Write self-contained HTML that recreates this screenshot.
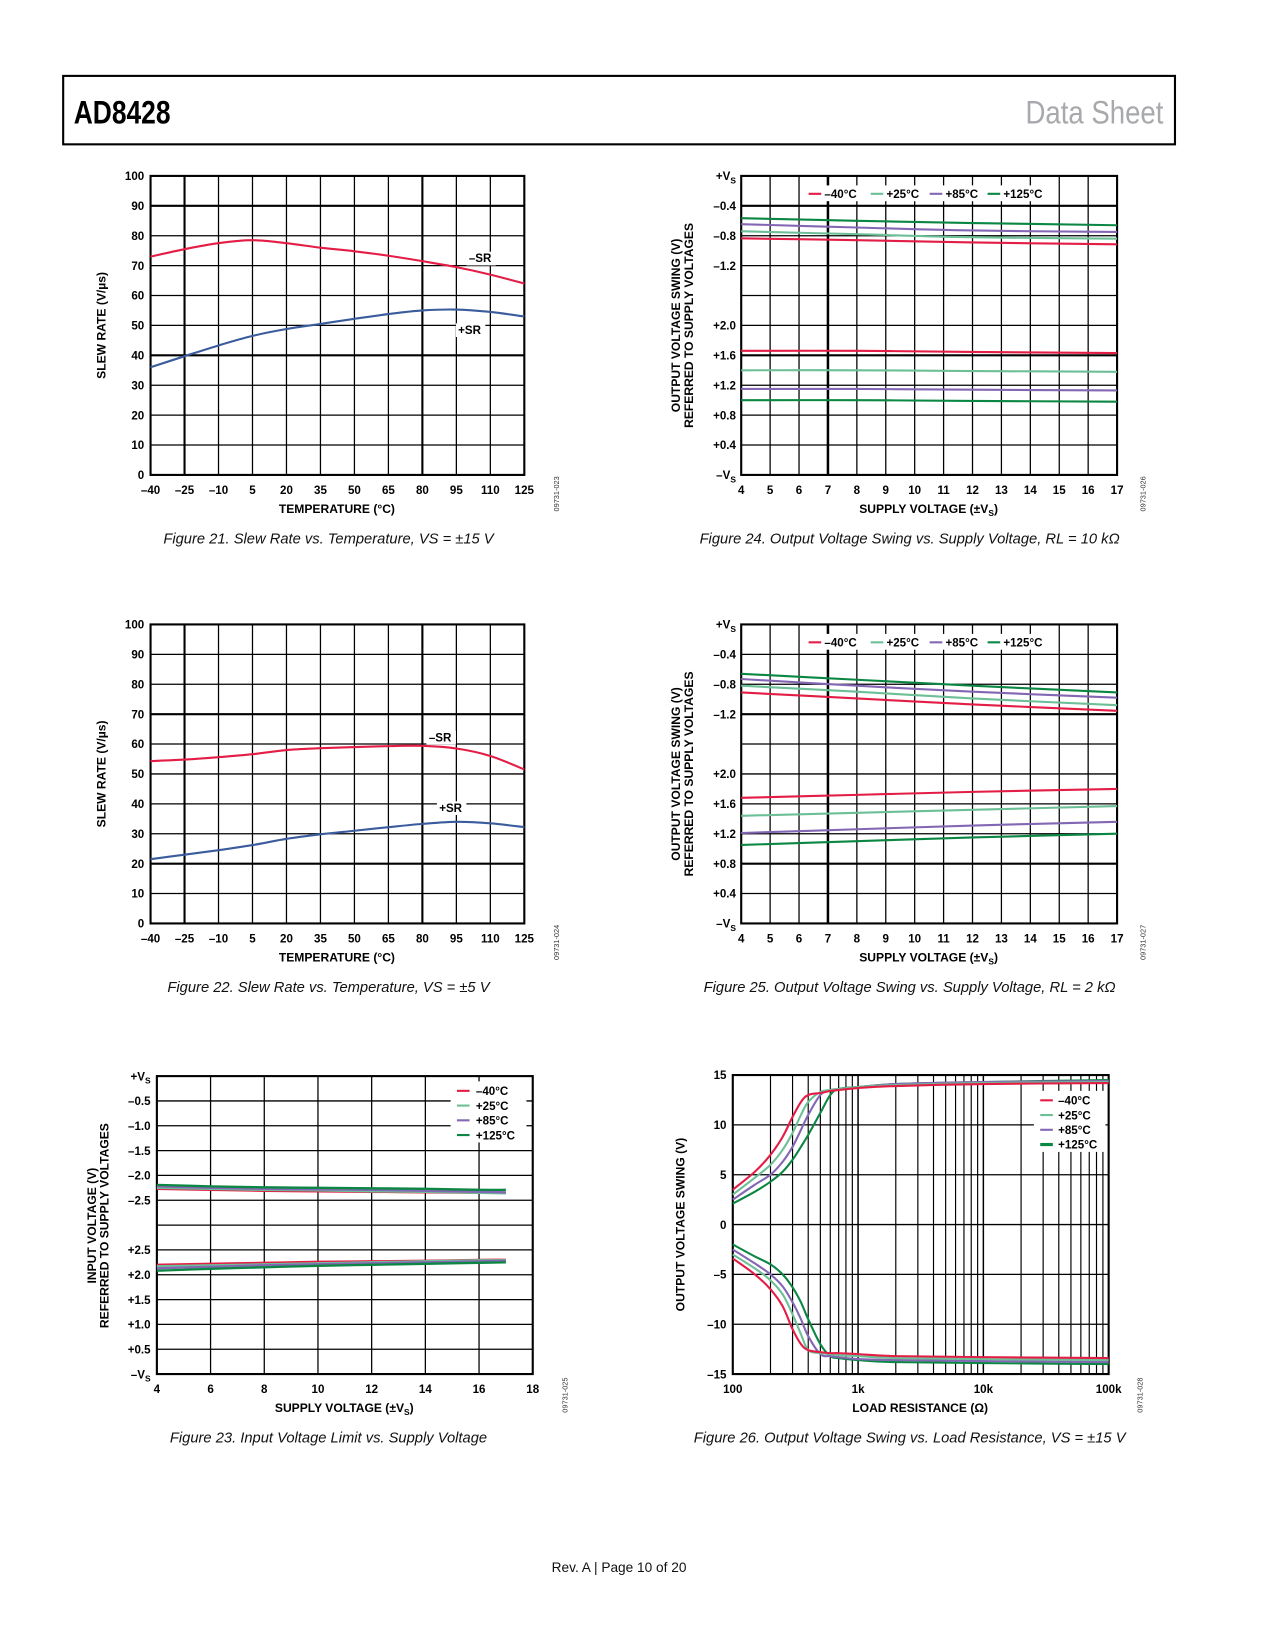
<!DOCTYPE html>
<html><head><meta charset="utf-8"><title>AD8428 Data Sheet page 10</title>
<style>
html,body{margin:0;padding:0;background:#fff;}
svg{display:block;}
text{font-family:"Liberation Sans",Arial,sans-serif;}
.tk{font-size:11px;font-weight:bold;fill:#000;}
.ttl{font-size:11.5px;font-weight:bold;fill:#000;}
.cap{font-size:14px;font-style:italic;fill:#111;}
.code{font-size:7px;fill:#333;}
</style></head>
<body>
<svg id="page" xmlns="http://www.w3.org/2000/svg" width="1275" height="1650" viewBox="0 0 1211 1567">
<rect x="0" y="0" width="1211" height="1567" fill="#fff"/>
<rect x="60" y="72" width="1056" height="65" fill="none" stroke="#000" stroke-width="2"/>
<text x="70" y="117" font-size="31" font-weight="bold" textLength="92" lengthAdjust="spacingAndGlyphs">AD8428</text>
<text x="1105" y="117" font-size="31" fill="#a7a9ac" text-anchor="end" textLength="131" lengthAdjust="spacingAndGlyphs">Data Sheet</text>
<text x="588" y="1493" font-size="13" text-anchor="middle" fill="#111">Rev. A | Page 10 of 20</text>
<g id="charts"></g>
</svg>
<script>
// ---------- Figure 21 data ----------
const f21Temps = [-40,-25,-10,5,20,35,50,65,80,95,110,125];
const f21NegSR = [73,75.5,77.5,78.5,77.5,76,74.8,73.3,71.5,69.5,67,64];
const f21PosSR = [36,39.7,43.3,46.5,48.8,50.5,52.2,53.8,55,55.3,54.5,53];
// ---------- Figure 22 data ----------
const f22Temps = [-40,-25,-10,5,20,35,50,65,80,95,110,125];
const f22NegSR = [54.3,54.8,55.6,56.6,58,58.6,59,59.3,59.4,58.5,56,51.5];
const f22PosSR = [21.5,23,24.5,26.2,28.3,29.8,31,32.2,33.3,34,33.5,32.2];
const srYTicks = [0,10,20,30,40,50,60,70,80,90,100];
const srXTicks = [-40,-25,-10,5,20,35,50,65,80,95,110,125];
const srXLabels = ["\u201340","\u201325","\u201310","5","20","35","50","65","80","95","110","125"];
// ---------- Figure 24 data (RL = 10k) ----------
const swingX = [4,8,12,17];
const f24TopM40 = [-0.835,-0.86,-0.89,-0.915];
const f24TopP25 = [-0.74,-0.78,-0.82,-0.84];
const f24TopP85 = [-0.645,-0.69,-0.73,-0.75];
const f24TopP125 = [-0.565,-0.6,-0.63,-0.66];
const f24BotM40 = [1.66,1.66,1.645,1.63];
const f24BotP25 = [1.4,1.4,1.39,1.38];
const f24BotP85 = [1.15,1.15,1.14,1.13];
const f24BotP125 = [1.0,1.0,0.99,0.98];
// ---------- Figure 25 data (RL = 2k) ----------
const f25TopM40 = [-0.91,-0.99,-1.07,-1.155];
const f25TopP25 = [-0.82,-0.9,-0.99,-1.08];
const f25TopP85 = [-0.73,-0.82,-0.9,-0.98];
const f25TopP125 = [-0.66,-0.74,-0.82,-0.91];
const f25BotM40 = [1.68,1.72,1.76,1.8];
const f25BotP25 = [1.44,1.48,1.52,1.57];
const f25BotP85 = [1.21,1.26,1.31,1.36];
const f25BotP125 = [1.05,1.1,1.15,1.2];
const swingXTicks = [4,5,6,7,8,9,10,11,12,13,14,15,16,17];
const swingYLabels = ["+VS","\u20130.4","\u20130.8","\u20131.2","","+2.0","+1.6","+1.2","+0.8","+0.4","\u2013VS"];
// ---------- Figure 23 data ----------
const f23X = [4,6,8,10,12,14,16,17];
const f23TopM40 = [-2.27,-2.29,-2.31,-2.32,-2.33,-2.34,-2.35,-2.35];
const f23TopP25 = [-2.25,-2.27,-2.29,-2.3,-2.32,-2.33,-2.35,-2.36];
const f23TopP85 = [-2.22,-2.25,-2.27,-2.28,-2.29,-2.31,-2.33,-2.34];
const f23TopP125 = [-2.19,-2.22,-2.24,-2.25,-2.26,-2.27,-2.29,-2.29];
const f23BotM40 = [2.2,2.22,2.24,2.26,2.27,2.28,2.3,2.3];
const f23BotP25 = [2.17,2.19,2.21,2.23,2.25,2.27,2.29,2.29];
const f23BotP85 = [2.13,2.16,2.19,2.21,2.23,2.25,2.27,2.28];
const f23BotP125 = [2.08,2.12,2.15,2.18,2.2,2.22,2.24,2.25];
const f23XTicks = [4,6,8,10,12,14,16,18];
const f23YLabels = ["+VS","\u20130.5","\u20131.0","\u20131.5","\u20132.0","\u20132.5","","+2.5","+2.0","+1.5","+1.0","+0.5","\u2013VS"];
// ---------- Figure 26 data ----------
const f26R = [100,150,200,250,300,350,400,500,600,700,1000,2000,10000,100000];
const f26UpM40 = [3.5,5.3,7,8.8,10.8,12.3,13,13.2,13.4,13.5,13.7,13.9,14.1,14.2];
const f26UpP25 = [3,4.7,6,7.5,9.2,11,12.3,13.3,13.5,13.6,13.8,14,14.2,14.3];
const f26UpP85 = [2.5,4,5,6.3,7.8,9.5,11,13,13.5,13.6,13.8,14.1,14.3,14.4];
const f26UpP125 = [2.1,3.3,4.3,5.3,6.5,7.8,9,11.2,13,13.6,13.8,14.1,14.3,14.5];
const f26LoM40 = [-3.4,-5,-6.5,-8.2,-10.5,-12,-12.6,-12.8,-12.9,-12.9,-13,-13.2,-13.3,-13.4];
const f26LoP25 = [-3,-4.4,-5.6,-7,-9,-11,-12.6,-12.9,-13,-13.1,-13.2,-13.4,-13.5,-13.6];
const f26LoP85 = [-2.5,-3.9,-5,-6.2,-7.8,-9.5,-11.2,-13,-13.2,-13.3,-13.5,-13.6,-13.7,-13.8];
const f26LoP125 = [-2,-3.2,-4,-5,-6.3,-7.8,-9.5,-12,-13.2,-13.4,-13.6,-13.8,-13.9,-14];
const f26YTicks = [15,10,5,0,-5,-10,-15];
const f26XTicks = [100,1000,10000,100000];
const f26XLabels = ["100","1k","10k","100k"];
const tempNames = ["\u201340\u00B0C","+25\u00B0C","+85\u00B0C","+125\u00B0C"];

const COL = {red:"#e31d45", teal:"#6dbf97", purple:"#8467b4", green:"#0b8743", blue:"#3b5c9c"};
const tempCols = [COL.red, COL.teal, COL.purple, COL.green];
const NS = "http://www.w3.org/2000/svg";
const root = document.getElementById("charts");

function mk(tag, attrs, parent, name, inter) {
  const e = document.createElementNS(NS, tag);
  for (const k in attrs) e.setAttribute(k, attrs[k]);
  
  
  (parent || root).appendChild(e);
  return e;
}
function lin(d0, d1, r0, r1) { return v => r0 + (v - d0) / (d1 - d0) * (r1 - r0); }
function txt(parent, x, y, s, cls, name, anchor) {
  const t = mk('text', {x: x, y: y, 'class': cls, 'text-anchor': anchor || 'middle'}, parent, name, false);
  // VS subscript handling
  const m = s.match(/^(.*)V(S)(.*)$/);
  if (m && (s.indexOf('VS') >= 0)) {
    t.appendChild(document.createTextNode(m[1] + 'V'));
    const sub = document.createElementNS(NS, 'tspan');
    sub.setAttribute('font-size', '8');
    sub.setAttribute('dy', '3');
    sub.textContent = 'S';
    t.appendChild(sub);
    if (m[3]) {
      const rest = document.createElementNS(NS, 'tspan');
      rest.setAttribute('dy', '-3');
      rest.textContent = m[3];
      t.appendChild(rest);
    }
  } else t.textContent = s;
  return t;
}
function vtxt(parent, x, y, s, cls, name) {
  const t = txt(parent, 0, 0, s, cls, name, 'middle');
  t.setAttribute('transform', 'translate(' + x + ',' + y + ') rotate(-90)');
  return t;
}
function hline(g, x0, x1, y, w, name) { mk('line', {x1: x0, x2: x1, y1: y, y2: y, stroke: '#000', 'stroke-width': w}, g, name, false); }
function vline(g, x, y0, y1, w, name) { mk('line', {x1: x, x2: x, y1: y0, y2: y1, stroke: '#000', 'stroke-width': w}, g, name, false); }
function smoothPath(pts) {
  let d = 'M' + pts[0][0].toFixed(2) + ',' + pts[0][1].toFixed(2);
  for (let i = 0; i < pts.length - 1; i++) {
    const p0 = pts[Math.max(0, i - 1)], p1 = pts[i], p2 = pts[i + 1], p3 = pts[Math.min(pts.length - 1, i + 2)];
    const c1 = [p1[0] + (p2[0] - p0[0]) / 6, p1[1] + (p2[1] - p0[1]) / 6];
    const c2 = [p2[0] - (p3[0] - p1[0]) / 6, p2[1] - (p3[1] - p1[1]) / 6];
    d += ' C' + c1[0].toFixed(2) + ',' + c1[1].toFixed(2) + ' ' + c2[0].toFixed(2) + ',' + c2[1].toFixed(2) + ' ' + p2[0].toFixed(2) + ',' + p2[1].toFixed(2);
  }
  return d;
}
function series(g, xs, ys, sx, sy, color, w, name) {
  const pts = xs.map((x, i) => [sx(x), sy(ys[i])]);
  mk('path', {d: smoothPath(pts), fill: 'none', stroke: color, 'stroke-width': w, 'stroke-linejoin': 'round'}, g, name, false);
}
function whiteRect(g, x, y, w, h, name) { mk('rect', {x: x, y: y, width: w, height: h, fill: '#fff'}, g, name, false); }

// ---------- Slew rate charts ----------
function slewChart(id, top, negSR, posSR, temps, thickY, negLbl, posLbl, caption, code) {
  const g = mk('g', {}, root, id, false);
  const X0 = 143, X1 = 498, Y0 = top, Y1 = top + 284;
  const sx = lin(-40, 125, X0, X1), sy = lin(0, 100, Y1, Y0);
  srYTicks.forEach(v => {
    hline(g, X0, X1, sy(v), thickY.indexOf(v) >= 0 ? 2 : 1.2, 'y-gridline');
    txt(g, 137, sy(v) + 4, String(v), 'tk', 'y-tick-label', 'end');
  });
  srXTicks.forEach((v, i) => {
    vline(g, sx(v), Y0, Y1, (v === -25 || v === 80) ? 2 : 1.2, 'x-gridline');
    txt(g, sx(v), Y1 + 18, srXLabels[i], 'tk', 'x-tick-label');
  });
  mk('rect', {x: X0, y: Y0, width: X1 - X0, height: Y1 - Y0, fill: 'none', stroke: '#000', 'stroke-width': 2}, g, 'plot-frame', false);
  series(g, temps, negSR, sx, sy, COL.red, 2, 'neg-slew-rate-line');
  series(g, temps, posSR, sx, sy, COL.blue, 2, 'pos-slew-rate-line');
  whiteRect(g, negLbl[0] - 13, negLbl[1] - 10, 28, 13, 'label-bg');
  txt(g, negLbl[0], negLbl[1], '\u2013SR', 'tk', 'neg-sr-label');
  whiteRect(g, posLbl[0] - 13, posLbl[1] - 10, 28, 13, 'label-bg');
  txt(g, posLbl[0], posLbl[1], '+SR', 'tk', 'pos-sr-label');
  vtxt(g, 100, Y0 + 142, 'SLEW RATE (V/\u00B5s)', 'ttl', 'y-axis-title');
  txt(g, 320, Y1 + 36, 'TEMPERATURE (\u00B0C)', 'ttl', 'x-axis-title');
  vtxt(g, 531, Y1 + 18, code, 'code', 'figure-code');
  const c = txt(g, 312, Y1 + 65, '', 'cap', 'figure-caption');
  c.textContent = caption;
}
slewChart('figure-21', 167, f21NegSR, f21PosSR, f21Temps, [90, 40], [456, 249], [446, 317], 'Figure 21. Slew Rate vs. Temperature, VS = \u00B115 V', '09731-023');
slewChart('figure-22', 593, f22NegSR, f22PosSR, f22Temps, [70, 20], [418, 704], [428, 771], 'Figure 22. Slew Rate vs. Temperature, VS = \u00B15 V', '09731-024');

// ---------- Output swing vs supply ----------
function swingChart(id, top, tops, bots, thickRows, caption, code) {
  const g = mk('g', {}, root, id, false);
  const X0 = 704, X1 = 1061, Y0 = top, Y1 = top + 284, RH = 28.4;
  const sx = lin(4, 17, X0, X1);
  const syTop = v => Y0 + (-v) / 0.4 * RH;
  const syBot = v => Y1 - v / 0.4 * RH;
  swingYLabels.forEach((s, i) => {
    const y = Y0 + i * RH;
    hline(g, X0, X1, y, thickRows.indexOf(i) >= 0 ? 2 : 1.2, 'y-gridline');
    if (s) txt(g, 699, y + 4, s, 'tk', 'y-tick-label', 'end');
  });
  swingXTicks.forEach(v => {
    vline(g, sx(v), Y0, Y1, v === 7 ? 2.4 : 1.2, 'x-gridline');
    txt(g, sx(v), Y1 + 18, String(v), 'tk', 'x-tick-label');
  });
  mk('rect', {x: X0, y: Y0, width: X1 - X0, height: Y1 - Y0, fill: 'none', stroke: '#000', 'stroke-width': 2}, g, 'plot-frame', false);
  for (let k = 0; k < 4; k++) {
    series(g, swingX, tops[k], sx, syTop, tempCols[k], 2, 'neg-swing-line');
    series(g, swingX, bots[k], sx, syBot, tempCols[k], 2, 'pos-swing-line');
  }
  const lg = mk('g', {}, g, 'legend', false);
  whiteRect(lg, 764, Y0 + 9, 232, 15, 'legend-bg');
  const lx = [768, 827, 883, 938];
  for (let k = 0; k < 4; k++) {
    mk('line', {x1: lx[k], x2: lx[k] + 12, y1: Y0 + 17, y2: Y0 + 17, stroke: tempCols[k], 'stroke-width': 2}, lg, 'legend-swatch', false);
    txt(lg, lx[k] + 15, Y0 + 21, tempNames[k], 'tk', 'legend-entry', 'start');
  }
  vtxt(g, 646, Y0 + 142, 'OUTPUT VOLTAGE SWING (V)', 'ttl', 'y-axis-title');
  vtxt(g, 658, Y0 + 142, 'REFERRED TO SUPPLY VOLTAGES', 'ttl', 'y-axis-title-line2');
  txt(g, 882, Y1 + 36, 'SUPPLY VOLTAGE (\u00B1VS)', 'ttl', 'x-axis-title');
  vtxt(g, 1088, Y1 + 18, code, 'code', 'figure-code');
  const c = txt(g, 864, Y1 + 65, '', 'cap', 'figure-caption');
  c.textContent = caption;
}
swingChart('figure-24', 167, [f24TopM40, f24TopP25, f24TopP85, f24TopP125], [f24BotM40, f24BotP25, f24BotP85, f24BotP125], [1, 6], 'Figure 24. Output Voltage Swing vs. Supply Voltage, RL = 10 k\u03A9', '09731-026');
swingChart('figure-25', 593, [f25TopM40, f25TopP25, f25TopP85, f25TopP125], [f25BotM40, f25BotP25, f25BotP85, f25BotP125], [3, 8], 'Figure 25. Output Voltage Swing vs. Supply Voltage, RL = 2 k\u03A9', '09731-027');

// ---------- Figure 23 ----------
(function () {
  const g = mk('g', {}, root, 'figure-23', false);
  const X0 = 149, X1 = 506, Y0 = 1022, Y1 = 1305, RH = (Y1 - Y0) / 12;
  const sx = lin(4, 18, X0, X1);
  const syTop = v => Y0 + (-v) / 0.5 * RH;
  const syBot = v => Y1 - v / 0.5 * RH;
  f23YLabels.forEach((s, i) => {
    const y = Y0 + i * RH;
    hline(g, X0, X1, y, 1.2, 'y-gridline');
    if (s) txt(g, 143, y + 4, s, 'tk', 'y-tick-label', 'end');
  });
  f23XTicks.forEach(v => {
    vline(g, sx(v), Y0, Y1, 1.2, 'x-gridline');
    txt(g, sx(v), Y1 + 18, String(v), 'tk', 'x-tick-label');
  });
  mk('rect', {x: X0, y: Y0, width: X1 - X0, height: Y1 - Y0, fill: 'none', stroke: '#000', 'stroke-width': 2}, g, 'plot-frame', false);
  const tops = [f23TopM40, f23TopP25, f23TopP85, f23TopP125];
  const bots = [f23BotM40, f23BotP25, f23BotP85, f23BotP125];
  for (let k = 0; k < 4; k++) {
    series(g, f23X, tops[k], sx, syTop, tempCols[k], 2.2, 'upper-limit-line');
    series(g, f23X, bots[k], sx, syBot, tempCols[k], 2.2, 'lower-limit-line');
  }
  const lg = mk('g', {}, g, 'legend', false);
  whiteRect(lg, 428, 1027, 72, 58, 'legend-bg');
  for (let k = 0; k < 4; k++) {
    const y = 1036 + k * 14;
    mk('line', {x1: 434, x2: 446, y1: y, y2: y, stroke: tempCols[k], 'stroke-width': 2}, lg, 'legend-swatch', false);
    txt(lg, 452, y + 4, tempNames[k], 'tk', 'legend-entry', 'start');
  }
  vtxt(g, 91, 1164, 'INPUT VOLTAGE (V)', 'ttl', 'y-axis-title');
  vtxt(g, 103, 1164, 'REFERRED TO SUPPLY VOLTAGES', 'ttl', 'y-axis-title-line2');
  txt(g, 327, 1341, 'SUPPLY VOLTAGE (\u00B1VS)', 'ttl', 'x-axis-title');
  vtxt(g, 539, 1325, '09731-025', 'code', 'figure-code');
  const c = txt(g, 312, 1370, '', 'cap', 'figure-caption');
  c.textContent = 'Figure 23. Input Voltage Limit vs. Supply Voltage';
})();

// ---------- Figure 26 ----------
(function () {
  const g = mk('g', {}, root, 'figure-26', false);
  const X0 = 696, X1 = 1053, Y0 = 1021, Y1 = 1305;
  const sx = v => X0 + (Math.log10(v) - 2) / 3 * (X1 - X0);
  const sy = lin(-15, 15, Y1, Y0);
  f26YTicks.forEach(v => {
    hline(g, X0, X1, sy(v), 1.2, 'y-gridline');
    txt(g, 690, sy(v) + 4, v < 0 ? '\u2013' + (-v) : String(v), 'tk', 'y-tick-label', 'end');
  });
  for (let d = 100; d < 100000; d *= 10) {
    for (let m = 1; m < 10; m++) vline(g, sx(d * m), Y0, Y1, m === 1 ? 1.4 : 1.1, 'x-gridline');
  }
  f26XTicks.forEach((v, i) => txt(g, sx(v), Y1 + 18, f26XLabels[i], 'tk', 'x-tick-label'));
  mk('rect', {x: X0, y: Y0, width: X1 - X0, height: Y1 - Y0, fill: 'none', stroke: '#000', 'stroke-width': 2}, g, 'plot-frame', false);
  const ups = [f26UpM40, f26UpP25, f26UpP85, f26UpP125];
  const los = [f26LoM40, f26LoP25, f26LoP85, f26LoP125];
  for (let k = 3; k >= 0; k--) {
    series(g, f26R, ups[k], sx, sy, tempCols[k], 2, 'positive-swing-line');
    series(g, f26R, los[k], sx, sy, tempCols[k], 2, 'negative-swing-line');
  }
  const lg = mk('g', {}, g, 'legend', false);
  whiteRect(lg, 982, 1036, 68, 58, 'legend-bg');
  for (let k = 0; k < 4; k++) {
    const y = 1045 + k * 14;
    mk('line', {x1: 988, x2: 1000, y1: y, y2: y, stroke: tempCols[k], 'stroke-width': k === 3 ? 3 : 2}, lg, 'legend-swatch', false);
    txt(lg, 1005, y + 4, tempNames[k], 'tk', 'legend-entry', 'start');
  }
  vtxt(g, 650, 1163, 'OUTPUT VOLTAGE SWING (V)', 'ttl', 'y-axis-title');
  txt(g, 874, 1341, 'LOAD RESISTANCE (\u03A9)', 'ttl', 'x-axis-title');
  vtxt(g, 1085, 1325, '09731-028', 'code', 'figure-code');
  const c = txt(g, 864, 1370, '', 'cap', 'figure-caption');
  c.textContent = 'Figure 26. Output Voltage Swing vs. Load Resistance, VS = \u00B115 V';
})();
</script>
</body></html>
